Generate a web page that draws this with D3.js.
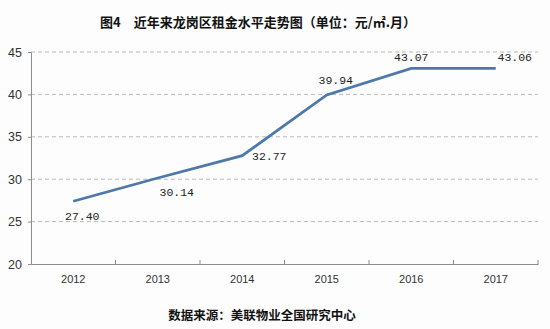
<!DOCTYPE html>
<html>
<head>
<meta charset="utf-8">
<script src="https://cdn.jsdelivr.net/npm/d3@7/dist/d3.min.js"></script>
<style>
  html, body { margin: 0; padding: 0; background: #fdfdfd; }
  svg { display: block; }
</style>
</head>
<body>
<svg id="chart" width="550" height="329"></svg>
<script>
// Yearly average rent in Longgang district (yuan per m² per month)
const years = ["2012", "2013", "2014", "2015", "2016", "2017"];
const rents = [27.40, 30.14, 32.77, 39.94, 43.07, 43.06];
const yTicks = [20, 25, 30, 35, 40, 45];
const titleText = "图4\u2003近年来龙岗区租金水平走势图（单位：元/㎡.月）";
const sourceText = "数据来源：美联物业全国研究中心";

// Value label nudges (dx, dy) relative to each point, keeps labels off the line
const labelNudge = [[9, 15], [19, 14], [27, 0], [9, -15], [0, -11], [19, -11]];

const svg = d3.select("#chart");
const margin = { left: 31, right: 12, top: 52, bottom: 65 };
const W = 550, H = 329;

const x = d3.scaleBand().domain(years).range([margin.left, W - margin.right]);
const y = d3.scaleLinear().domain([20, 45]).range([H - margin.bottom, margin.top]);

// Dashed horizontal gridlines
svg.append("g")
  .selectAll("line")
  .data(yTicks.filter(t => t > 20))
  .join("line")
  .attr("x1", margin.left).attr("x2", W - margin.right)
  .attr("y1", d => y(d)).attr("y2", d => y(d))
  .attr("stroke", "#b9b9b9").attr("stroke-width", 1)
  .attr("stroke-dasharray", "4,3");

// Y axis
const yAxis = svg.append("g")
  .attr("transform", `translate(${margin.left},0)`)
  .call(d3.axisLeft(y).tickValues(yTicks).tickSize(3).tickPadding(6).tickFormat(d3.format("d")));
yAxis.select(".domain").attr("stroke", "#8c8c8c");
yAxis.selectAll(".tick line").attr("stroke", "#8c8c8c");
yAxis.selectAll("text")
  .attr("font-family", "Liberation Sans, Arial, sans-serif")
  .attr("font-size", 12.5).attr("fill", "#333");

// X axis with inward ticks at band boundaries
const xAxis = svg.append("g")
  .attr("transform", `translate(0,${y(20)})`)
  .call(d3.axisBottom(x).tickSize(0).tickPadding(11));
xAxis.select(".domain").attr("stroke", "#8c8c8c");
xAxis.selectAll("text")
  .attr("font-family", "Liberation Sans, Arial, sans-serif")
  .attr("font-size", 11).attr("fill", "#333");
svg.append("g")
  .selectAll("line")
  .data(years)
  .join("line")
  .attr("x1", d => x(d) + x.bandwidth()).attr("x2", d => x(d) + x.bandwidth())
  .attr("y1", y(20)).attr("y2", y(20) - 4)
  .attr("stroke", "#8c8c8c");

// Trend line through band centres
const line = d3.line()
  .x((d, i) => x(years[i]) + x.bandwidth() / 2)
  .y(d => y(d));
svg.append("path")
  .datum(rents)
  .attr("d", line)
  .attr("fill", "none")
  .attr("stroke", "#4d79aa")
  .attr("stroke-width", 2.8)
  .attr("stroke-linejoin", "miter");

// Value labels
svg.append("g")
  .selectAll("text")
  .data(rents)
  .join("text")
  .attr("x", (d, i) => x(years[i]) + x.bandwidth() / 2 + labelNudge[i][0])
  .attr("y", (d, i) => y(d) + labelNudge[i][1])
  .attr("dy", "0.35em")
  .attr("text-anchor", "middle")
  .attr("font-family", "Liberation Mono, DejaVu Sans Mono, monospace")
  .attr("font-size", 11.5)
  .attr("fill", "#222")
  .text(d => d.toFixed(2));

// Title
svg.append("text")
  .attr("x", 100).attr("y", 22)
  .attr("dy", "0.35em")
  .attr("font-family", "Noto Sans CJK SC, sans-serif")
  .attr("font-weight", "bold")
  .attr("font-size", 13)
  .attr("fill", "#111")
  .text(titleText);

// Data source note
svg.append("text")
  .attr("x", 262).attr("y", 316)
  .attr("dy", "0.35em")
  .attr("text-anchor", "middle")
  .attr("font-family", "Noto Sans CJK SC, sans-serif")
  .attr("font-weight", "bold")
  .attr("font-size", 12.5)
  .attr("fill", "#111")
  .text(sourceText);
</script>
</body>
</html>
